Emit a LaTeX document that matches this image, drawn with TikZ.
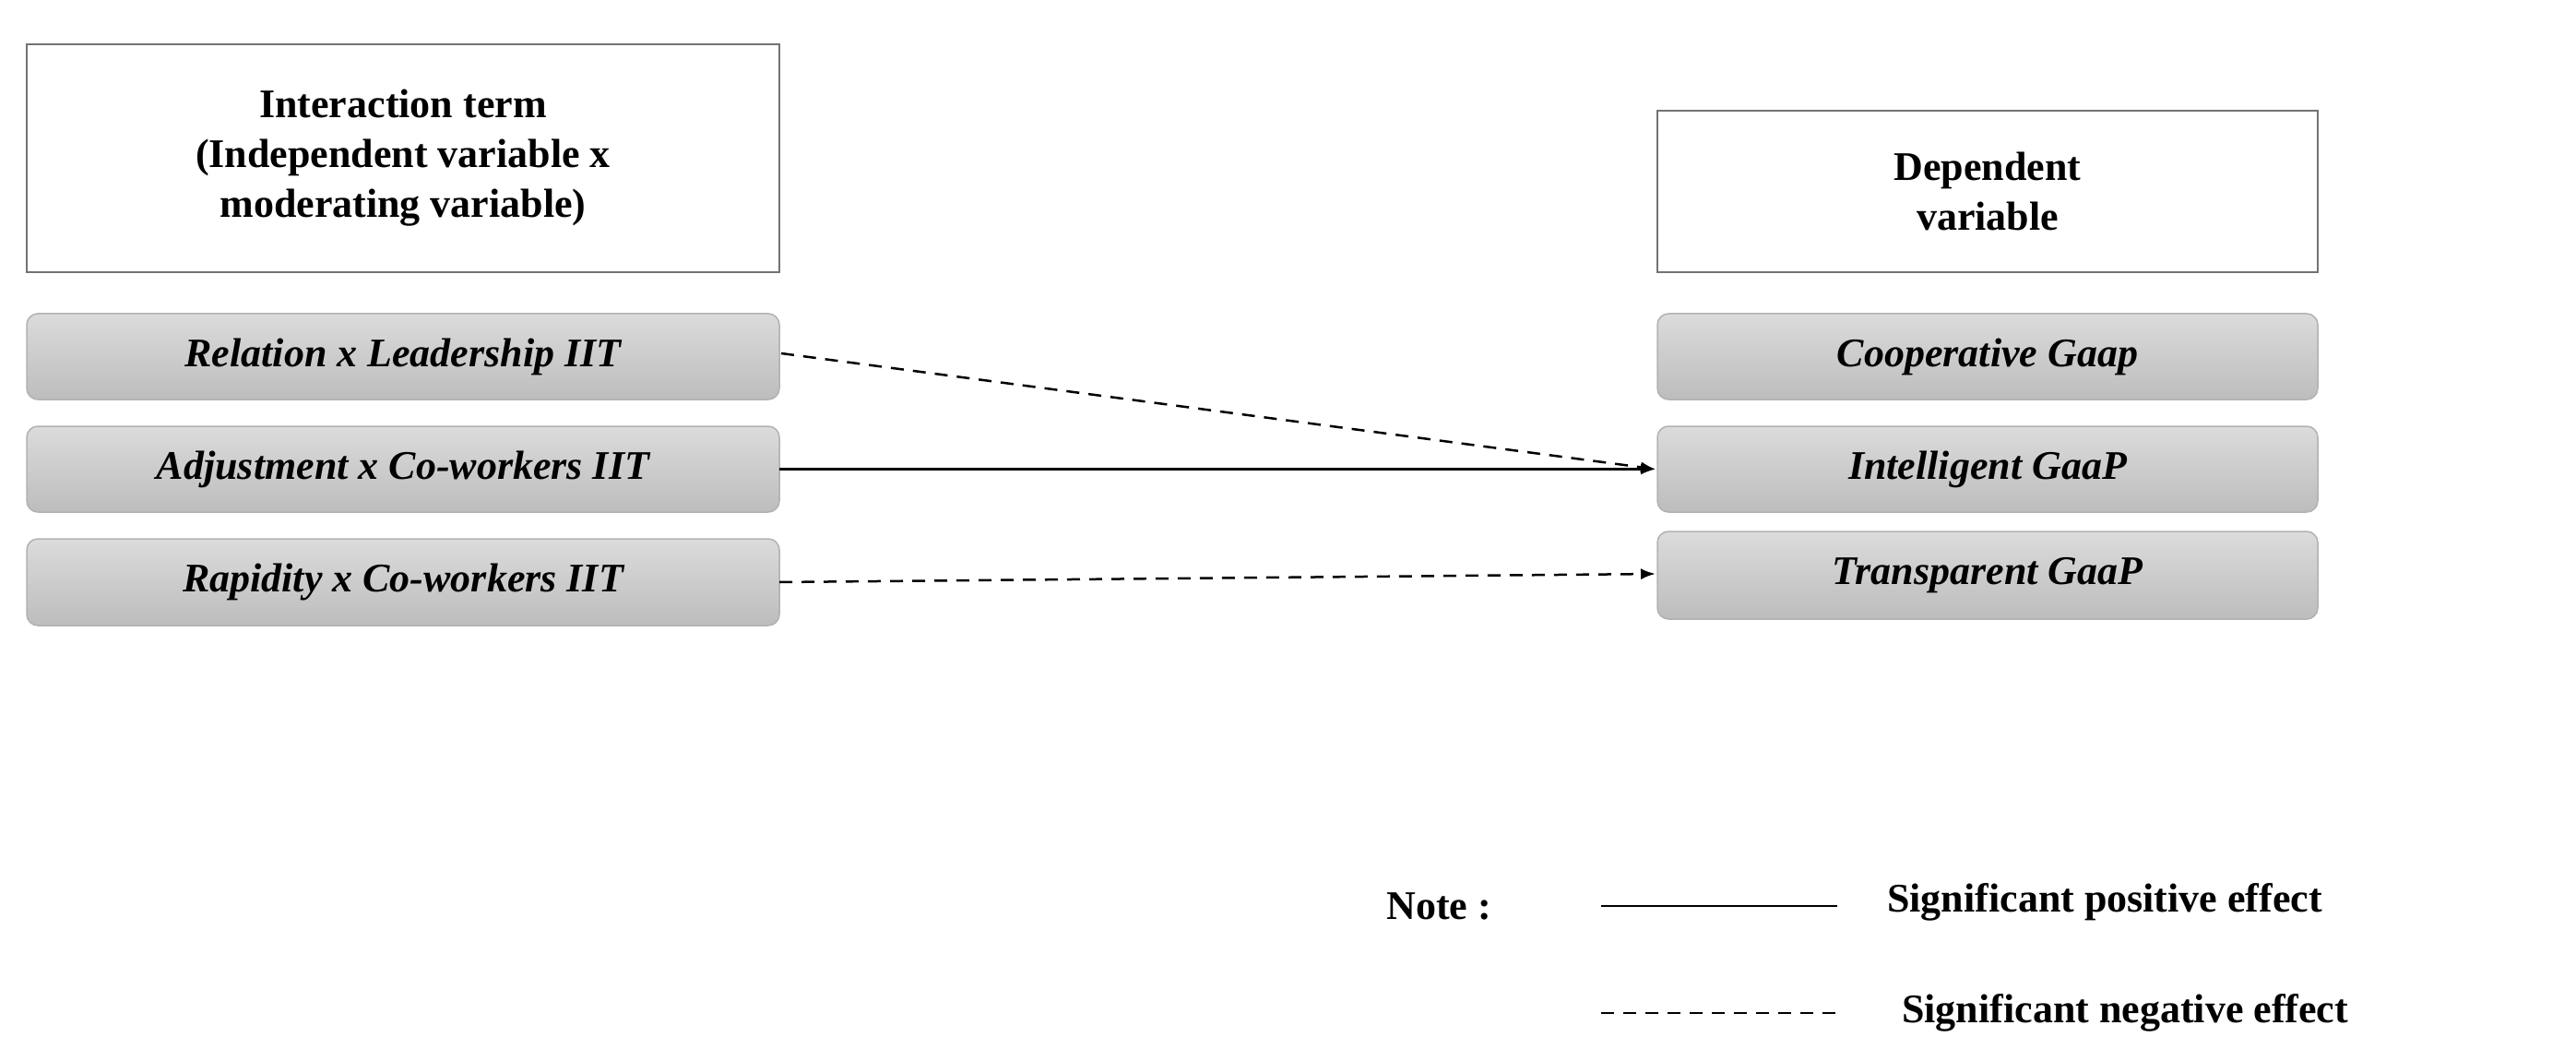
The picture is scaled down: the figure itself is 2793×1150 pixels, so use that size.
\documentclass[tikz,border=0pt]{standalone}
\usepackage{fontspec}
\setmainfont{Liberation Serif}
\usetikzlibrary{arrows.meta}
\begin{document}
\begin{tikzpicture}[x=1pt,y=-1pt,
  hdr/.style={draw=black!55,line width=1.5pt,fill=white,align=center,font=\fontsize{44}{54}\selectfont\bfseries},
  box/.style={draw=black!30,line width=1.5pt,rounded corners=12pt,top color=black!14,bottom color=black!26,font=\fontsize{44}{52}\selectfont\bfseries\itshape},
  arr/.style={line width=2.5pt,-{Latex[length=16pt,width=12pt]}},
  dsh/.style={dash pattern=on 14pt off 10pt}]
\useasboundingbox (0,0) rectangle (2793,1150);
\draw[hdr] (29,48) rectangle (845,295);
\node[font=\fontsize{44}{54}\selectfont\bfseries,align=center] (h1) at (437,171) {Interaction term\\(Independent variable x\\moderating variable)};
\draw[hdr] (1797,120) rectangle (2513,295);
\node[font=\fontsize{44}{54}\selectfont\bfseries,align=center] (h2) at (2155,207) {Dependent\\variable};
\foreach \n/\a/\b/\t in {l1/340/433/Relation x Leadership IIT,l2/462/555/Adjustment x Co-workers IIT,l3/584/678/Rapidity x Co-workers IIT}{
  \draw[box] (29,\a) rectangle (845,\b);
  \node[font=\fontsize{44}{52}\selectfont\bfseries\itshape,inner sep=0] (\n) at (437,{(\a+\b)/2}) {\t};
  \coordinate (\n e) at (845,{(\a+\b)/2});}
\foreach \n/\a/\b/\t in {r1/340/433/Cooperative Gaap,r2/462/555/Intelligent GaaP,r3/576/671/Transparent GaaP}{
  \draw[box] (1797,\a) rectangle (2513,\b);
  \node[font=\fontsize{44}{52}\selectfont\bfseries\itshape,inner sep=0] (\n) at (2155,{(\a+\b)/2}) {\t};
  \coordinate (\n w) at (1795,{(\a+\b)/2});}
\coordinate (l1s) at (847,383);
\draw[arr,dsh] (l1s) -- (r2w);
\draw[arr] (l2e) -- (r2w);
\draw[arr,dsh] (l3e) -- (1795,622);
\node[font=\fontsize{44}{52}\selectfont\bfseries,anchor=west] (note) at (1500,982) {Note :};
\coordinate (s1) at (1736,982); \coordinate (s2) at (1992,982);
\draw[line width=2.5pt] (s1) -- (s2);
\node[font=\fontsize{44}{52}\selectfont\bfseries,anchor=west,inner sep=0] (t1) at (2046,978) {Significant positive effect};
\coordinate (d1) at (1736,1098); \coordinate (d2) at (1996,1098);
\draw[line width=2.5pt,dsh] (d1) -- (d2);
\node[font=\fontsize{44}{52}\selectfont\bfseries,anchor=west,inner sep=0] (t2) at (2062,1098) {Significant negative effect};
\end{tikzpicture}
\end{document}
